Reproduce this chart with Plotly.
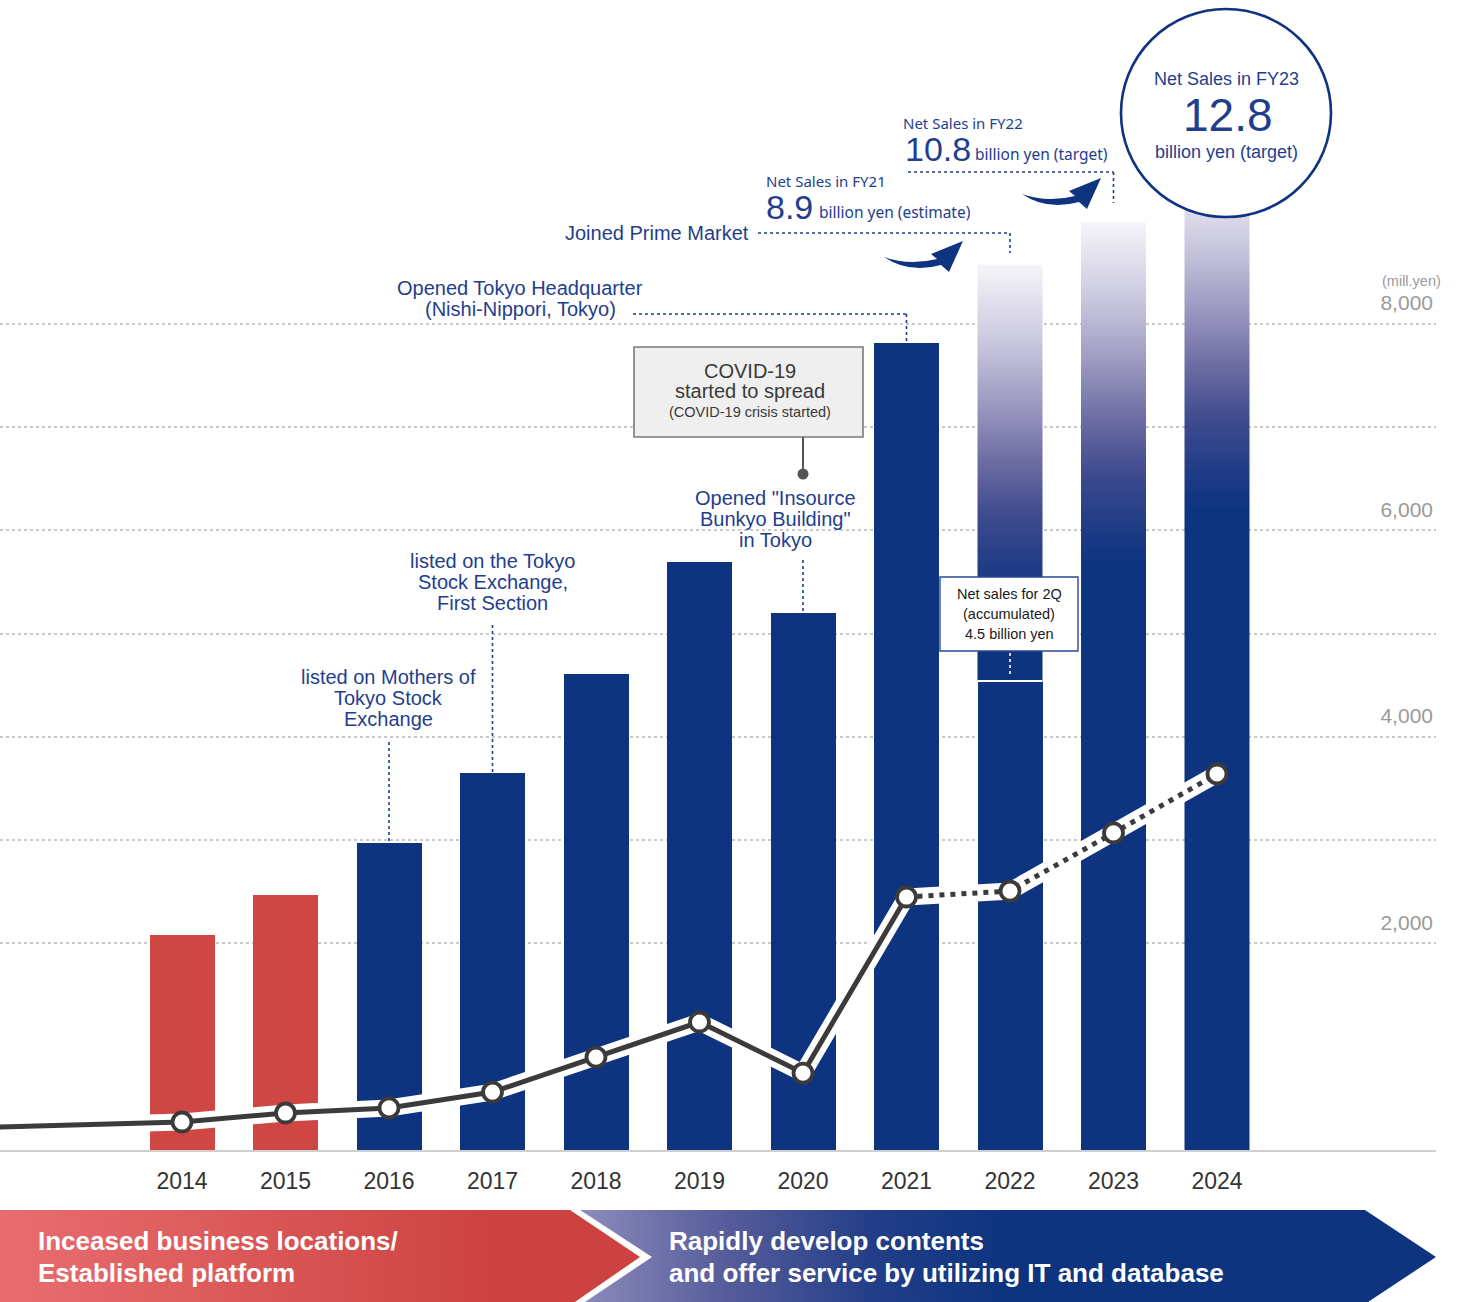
import plotly.graph_objects as go

W, H = 1469, 1302

# ---------------- data ----------------
years = [2014, 2015, 2016, 2017, 2018, 2019, 2020, 2021, 2022, 2023, 2024]
net_sales = [2080, 2470, 2970, 3650, 4610, 5690, 5200, 7810, 8570, 8980, 9500]
net_sales_2q_2022 = 4540
line_years = [2012, 2014, 2015, 2016, 2017, 2018, 2019, 2020, 2021, 2022, 2023, 2024]
line_values = [215, 271, 358, 407, 561, 900, 1239, 745, 2449, 2507, 3069, 3640]
y_tick_vals = [2000, 4000, 6000, 8000]
y_tick_text = ["2,000", "4,000", "6,000", "8,000"]
y_minor_vals = [3000, 5000, 7000]

NAVY = "#0e3480"
RED = "#cf4744"
TXT = "#1f3e8e"
DARK = "#3d3a3a"
GRID = "#c9c9c9"

# ---------------- layout geometry ----------------
X0PX, XS = 182, 103.5        # pixel of first category, pixels per category
PLOT_R = 1436
Y0PX, YS = 1150, 0.1033      # pixel of zero, pixels per unit
x_range = [-X0PX / XS, (PLOT_R - X0PX) / XS]
y_range = [0, Y0PX / YS]
BAR_W = 0.628


def X(p):
    return p / W


def Y(p):
    return 1 - p / H


def xpx(i):
    return X0PX + i * XS


def ypx(v):
    return Y0PX - v * YS


idx = [y - years[0] for y in years]
line_idx = [y - years[0] for y in line_years]

fig = go.Figure()

# solid bars (actuals + first half of 2022)
solid_x = [i for i, y in zip(idx, years) if y <= 2021] + [years.index(2022)]
solid_y = [v for v, y in zip(net_sales, years) if y <= 2021] + [net_sales_2q_2022]
solid_c = [RED if y < 2016 else NAVY for y in years if y <= 2021] + [NAVY]
fig.add_trace(go.Bar(x=solid_x, y=solid_y, width=BAR_W, marker=dict(color=solid_c, line=dict(width=0)),
                     hoverinfo="skip", showlegend=False))

# gradient (forecast) bars
grad_scale = [[0, NAVY], [0.09, "#1c3a85"], [0.26, "#3d4a8e"], [0.43, "#6f6ea4"],
              [0.6, "#9e9cc2"], [0.78, "#cbc9df"], [1, "#f6f5fa"]]
for i, y, v in zip(idx, years, net_sales):
    if y < 2022:
        continue
    base = net_sales_2q_2022 if y == 2022 else 0
    hw = BAR_W / 2
    fig.add_trace(go.Scatter(
        x=[i - hw, i + hw, i + hw, i - hw, i - hw], y=[base, base, v, v, base],
        mode="lines", line=dict(width=0), fill="toself",
        fillgradient=dict(type="vertical", colorscale=grad_scale, start=v - 3300, stop=v),
        hoverinfo="skip", showlegend=False))

# line with white halo
fig.add_trace(go.Scatter(x=line_idx, y=line_values, mode="lines",
                         line=dict(color="white", width=17), hoverinfo="skip", showlegend=False))
solid_pts = [(i, v) for i, v, y in zip(line_idx, line_values, line_years) if y <= 2021]
dot_pts = [(i, v) for i, v, y in zip(line_idx, line_values, line_years) if y >= 2021]
fig.add_trace(go.Scatter(x=[p[0] for p in solid_pts], y=[p[1] for p in solid_pts], mode="lines",
                         line=dict(color=DARK, width=5), hoverinfo="skip", showlegend=False))
fig.add_trace(go.Scatter(x=[p[0] for p in dot_pts], y=[p[1] for p in dot_pts], mode="lines",
                         line=dict(color=DARK, width=5, dash="5px,6px"), hoverinfo="skip", showlegend=False))
mk = [(i, v) for i, v, y in zip(line_idx, line_values, line_years) if y >= years[0]]
fig.add_trace(go.Scatter(x=[p[0] for p in mk], y=[p[1] for p in mk], mode="markers",
                         marker=dict(size=19, color="white", line=dict(color=DARK, width=3.8)),
                         hoverinfo="skip", showlegend=False))

# bottom banner (overlay pixel subplot)
fig.add_trace(go.Scatter(
    x=[0, 570, 640, 572, 0, 0], y=[1210, 1210, 1257, 1304, 1304, 1210],
    xaxis="x2", yaxis="y2", mode="lines", line=dict(width=0), fill="toself",
    fillgradient=dict(type="horizontal", colorscale=[[0, "#e96d70"], [1, "#cc4240"]], start=0, stop=500),
    hoverinfo="skip", showlegend=False))
fig.add_trace(go.Scatter(
    x=[580, 1365, 1436, 1365, 582, 652, 580], y=[1210, 1210, 1257, 1304, 1304, 1257, 1210],
    xaxis="x2", yaxis="y2", mode="lines", line=dict(width=0), fill="toself",
    fillgradient=dict(type="horizontal",
                      colorscale=[[0, "#8c8bbb"], [0.35, "#565c9a"], [0.7, "#223e88"], [1, NAVY]],
                      start=580, stop=1000),
    hoverinfo="skip", showlegend=False))

# ---------------- annotations ----------------
anns = []


def T(x, y, text, size, color=TXT, family="Liberation Sans", xanchor="center"):
    anns.append(dict(x=X(x), y=Y(y), xref="paper", yref="paper", text=text, showarrow=False,
                     xanchor=xanchor, yanchor="middle",
                     font=dict(size=size, color=color, family=family)))


for yy, s in zip([677, 698, 719], ["listed on Mothers of", "Tokyo Stock", "Exchange"]):
    T(388, yy, s, 20)
for yy, s in zip([561, 582, 603], ["listed on the Tokyo", "Stock Exchange,", "First Section"]):
    T(493, yy, s, 20)
for yy, s in zip([498, 519, 540], ["Opened \"Insource", "Bunkyo Building\"", "in Tokyo"]):
    T(775, yy, s, 20)
T(520, 288, "Opened Tokyo Headquarter", 20)
T(520, 309, "(Nishi-Nippori, Tokyo)", 20)
T(751, 233, "Joined Prime Market", 20, xanchor="right")

T(750, 371, "COVID-19", 20, color="#3a3a3a")
T(750, 391, "started to spread", 20, color="#3a3a3a")
T(750, 412, "(COVID-19 crisis started)", 14.5, color="#3a3a3a")

T(764, 181, "Net Sales in FY21", 15, family="Noto Sans", xanchor="left")
T(764, 207, "8.9", 34, xanchor="left")
T(817, 212, "billion yen (estimate)", 15.5, family="Noto Sans", xanchor="left")
T(901, 123, "Net Sales in FY22", 15, family="Noto Sans", xanchor="left")
T(903, 149, "10.8", 34, xanchor="left")
T(973, 154, "billion yen (target)", 15.5, family="Noto Sans", xanchor="left")

T(1226, 79, "Net Sales in FY23", 18)
T(1228, 115, "12.8", 46)
T(1226, 152, "billion yen (target)", 18)

for yy, s in zip([594, 614, 634], ["Net sales for 2Q", "(accumulated)", "4.5 billion yen"]):
    T(1009, yy, s, 14.5, color="#1a1a1a")

T(1443, 281, "(mill.yen)", 14.5, color="#9a9a9a", xanchor="right")

T(36, 1241, "<b>Inceased business locations/</b>", 26, color="white", xanchor="left")
T(36, 1273, "<b>Established platform</b>", 26, color="white", xanchor="left")
T(667, 1241, "<b>Rapidly develop contents</b>", 26, color="white", xanchor="left")
T(667, 1273, "<b>and offer service by utilizing IT and database</b>", 26, color="white", xanchor="left")

# ---------------- shapes ----------------
shapes = []


def L(x0, y0, x1, y1, color=TXT, width=1.6, dash="dot", layer="above"):
    shapes.append(dict(type="line", xref="paper", yref="paper", x0=X(x0), y0=Y(y0), x1=X(x1), y1=Y(y1),
                       line=dict(color=color, width=width, dash=dash), layer=layer))


# connectors to bars
L(xpx(2), 742, xpx(2), ypx(net_sales[2]))
L(xpx(3), 625, xpx(3), ypx(net_sales[3]))
L(xpx(6), 560, xpx(6), ypx(net_sales[6]))
L(633, 314, xpx(7), 314)
L(xpx(7), 314, xpx(7), ypx(net_sales[7]))
L(758, 233, xpx(8), 233)
L(xpx(8), 233, xpx(8), 253)
L(908, 172, xpx(9), 172)
L(xpx(9), 172, xpx(9), 203)

# COVID box + pin
shapes.append(dict(type="rect", xref="paper", yref="paper", x0=X(634), y0=Y(347), x1=X(863), y1=Y(437),
                   fillcolor="#efefef", line=dict(color="#7a7a7a", width=1.6), layer="above"))
L(xpx(6), 437, xpx(6), 472, color="#555555", width=2, dash="solid")
shapes.append(dict(type="circle", xref="paper", yref="paper", x0=X(xpx(6) - 5.5), y0=Y(468.5),
                   x1=X(xpx(6) + 5.5), y1=Y(479.5), fillcolor="#555555", line=dict(width=0), layer="above"))

# 2022 half-year marker
hwpx = BAR_W / 2 * XS
L(xpx(8) - hwpx, ypx(net_sales_2q_2022), xpx(8) + hwpx, ypx(net_sales_2q_2022), color="white", width=2, dash="solid")
L(xpx(8), 653, xpx(8), 676, color="white", width=1.6)
shapes.append(dict(type="rect", xref="paper", yref="paper", x0=X(940), y0=Y(577), x1=X(1078), y1=Y(651),
                   fillcolor="white", line=dict(color="#2a4a95", width=1.4), layer="above"))

# FY23 circle
shapes.append(dict(type="circle", xref="paper", yref="paper", x0=X(1121), y0=Y(9), x1=X(1331), y1=Y(217),
                   fillcolor="white", line=dict(color=NAVY, width=2.6), layer="above"))


# swoosh arrows
def swoosh(tx, ty):
    p = f"M {X(tx):.5f},{Y(ty):.5f} "
    p += f"Q {X(tx+25):.5f},{Y(ty+17):.5f} {X(tx+57):.5f},{Y(ty+8):.5f} "
    p += f"L {X(tx+65):.5f},{Y(ty+15):.5f} L {X(tx+79):.5f},{Y(ty-16):.5f} "
    p += f"L {X(tx+47):.5f},{Y(ty-3):.5f} L {X(tx+53):.5f},{Y(ty+2):.5f} "
    p += f"Q {X(tx+25):.5f},{Y(ty+9):.5f} {X(tx):.5f},{Y(ty):.5f} Z"
    shapes.append(dict(type="path", xref="paper", yref="paper", path=p, fillcolor=NAVY,
                       line=dict(width=0), layer="above"))


swoosh(884, 257)
swoosh(1022, 194)

fig.update_layout(
    width=W, height=H, margin=dict(l=0, r=0, t=0, b=0),
    paper_bgcolor="white", plot_bgcolor="rgba(0,0,0,0)",
    showlegend=False, bargap=0,
    xaxis=dict(domain=[0, PLOT_R / W], range=x_range, tickmode="array", tickvals=idx,
               ticktext=[str(y) for y in years], showgrid=False, zeroline=False,
               showline=True, linecolor="#cfcfcf", linewidth=2, ticks="", ticklabelstandoff=9,
               tickfont=dict(size=23, color="#333333", family="Liberation Sans"), fixedrange=True),
    yaxis=dict(domain=[1 - Y0PX / H, 1], range=y_range, side="right", tickmode="array",
               tickvals=y_tick_vals, ticktext=y_tick_text, ticklabelposition="inside top",
               ticklabelshift=-6,
               tickfont=dict(size=21, color="#9a9a9a", family="Liberation Sans"),
               showgrid=True, gridcolor=GRID, gridwidth=1.5, griddash="dot", zeroline=False,
               minor=dict(tickmode="array", tickvals=y_minor_vals, showgrid=True, gridcolor=GRID,
                          gridwidth=1.5, griddash="dot", ticks=""),
               ticks="", fixedrange=True),
    xaxis2=dict(domain=[0, 1], range=[0, W], visible=False, anchor="y2", fixedrange=True),
    yaxis2=dict(domain=[0, 1], range=[H, 0], visible=False, anchor="x2", fixedrange=True),
    annotations=anns, shapes=shapes,
)

fig.write_html("out.html")
